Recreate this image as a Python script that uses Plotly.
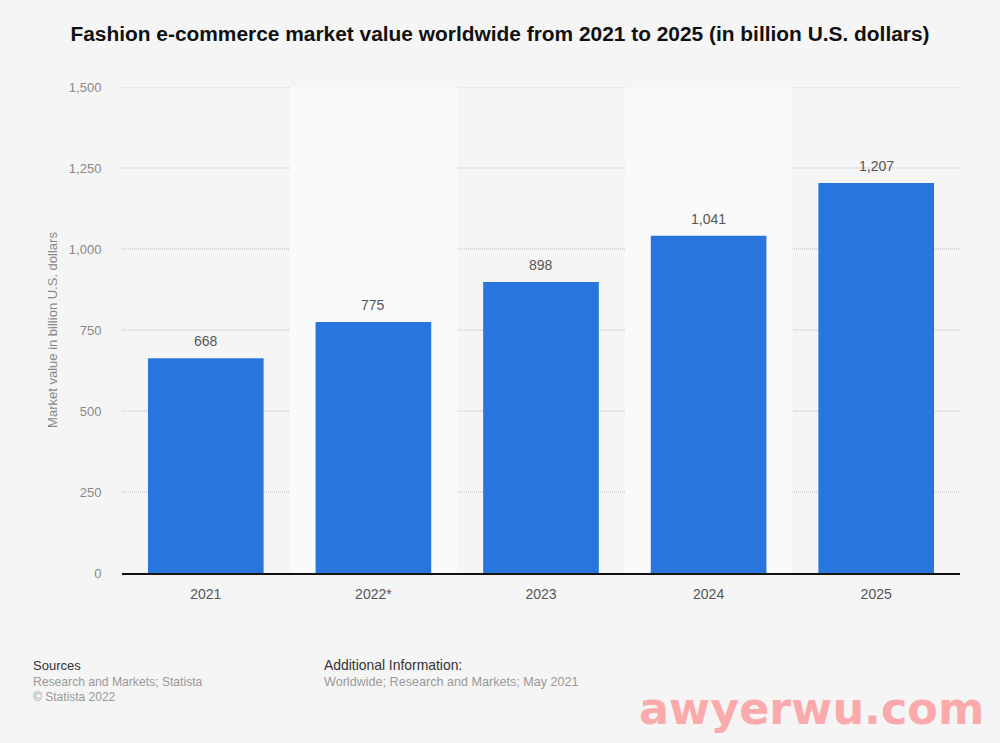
"""Fashion e-commerce market value bar chart."""

import plotly.graph_objects as go

YEARS = ["2021", "2022*", "2023", "2024", "2025"]
# bar heights as drawn; the first and last sit slightly below their printed labels
BAR_VALUES = [663, 775, 898, 1041, 1204]
BAR_LABELS = ["668", "775", "898", "1,041", "1,207"]
Y_TICKS = [0, 250, 500, 750, 1000, 1250, 1500]
BAND_CENTERS = [1, 3]

FONT = "Liberation Sans"
WIDTH = 1000
HEIGHT = 743

fig = go.Figure(
    go.Bar(
        x=YEARS,
        y=BAR_VALUES,
        width=0.69,
        marker=dict(color="#2875de", line=dict(width=0)),
        cliponaxis=False,
    )
)

# bands first, then the dotted grid on top of them
for center in BAND_CENTERS:
    fig.add_shape(
        type="rect", xref="x", yref="y", layer="below", line_width=0, fillcolor="#fafafa",
        x0=center - 0.5, x1=center + 0.5, y0=0, y1=1500,
    )
for tick in Y_TICKS[1:]:
    fig.add_shape(
        type="line", xref="paper", yref="y", layer="between",
        x0=0, x1=1, y0=tick, y1=tick,
        line=dict(color="#bbbbbb", width=1, dash="1px,1px"),
    )

for index, (value, label) in enumerate(zip(BAR_VALUES, BAR_LABELS)):
    fig.add_annotation(
        x=index, y=value, text=label, showarrow=False,
        xanchor="center", yanchor="bottom", yshift=7,
        font=dict(family=FONT, size=14, color="#555555"),
    )

fig.update_layout(
    width=WIDTH,
    height=HEIGHT,
    autosize=False,
    margin=dict(l=122, r=40, t=87, b=170),
    paper_bgcolor="#f5f5f5",
    plot_bgcolor="#f5f5f5",
    showlegend=False,
    font=dict(family=FONT),
    title=dict(
        text="<b>Fashion e-commerce market value worldwide from 2021 to 2025 (in billion U.S. dollars)</b>",
        font=dict(family=FONT, size=20.9, color="#111111"),
        x=0.5, xanchor="center", y=0.954, yanchor="middle",
    ),
)
fig.update_xaxes(
    type="category",
    range=[-0.5, 4.5],
    showline=True, linecolor="#111111", linewidth=1.5,
    showgrid=False,
    ticks="outside", ticklen=7, tickcolor="rgba(0,0,0,0)",
    tickfont=dict(family=FONT, size=14, color="#555555"),
)
fig.update_yaxes(
    range=[0, 1500],
    tickvals=Y_TICKS,
    tickformat=",",
    showline=False, zeroline=False, showgrid=False,
    ticks="outside", ticklen=17, tickcolor="rgba(0,0,0,0)",
    tickfont=dict(family=FONT, size=13, color="#888888"),
    title=dict(
        text="Market value in billion U.S. dollars",
        font=dict(family=FONT, size=13, color="#888888"),
        standoff=8,
    ),
)

notes = [
    (31, 665, "Sources", 13, "#333333"),
    (31, 682, "Research and Markets; Statista", 12.15, "#999999"),
    (31, 697, "© Statista 2022", 12, "#999999"),
    (322, 665, "Additional Information:", 13.9, "#333333"),
    (322, 682, "Worldwide; Research and Markets; May 2021", 12.6, "#999999"),
]
for x, y, text, size, color in notes:
    fig.add_annotation(
        xref="paper", yref="paper",
        x=(x - 122) / (WIDTH - 162), y=(HEIGHT - 170 - y) / (HEIGHT - 257),
        xanchor="left", yanchor="middle", showarrow=False,
        text=text, font=dict(family=FONT, size=size, color=color),
    )

fig.add_annotation(
    xref="paper", yref="paper",
    x=(986 - 122) / (WIDTH - 162), y=(HEIGHT - 170 - 708) / (HEIGHT - 257),
    xanchor="right", yanchor="middle", showarrow=False,
    text="<b>awyerwu.com</b>",
    font=dict(family="DejaVu Sans", size=44.5, color="#fbaaac"),
)

# page default margin would push the figure 8px in
fig.write_html(
    "out.html",
    config={"displayModeBar": False},
    post_script="document.body.style.margin = '0'; document.body.style.overflow = 'hidden';",
)
